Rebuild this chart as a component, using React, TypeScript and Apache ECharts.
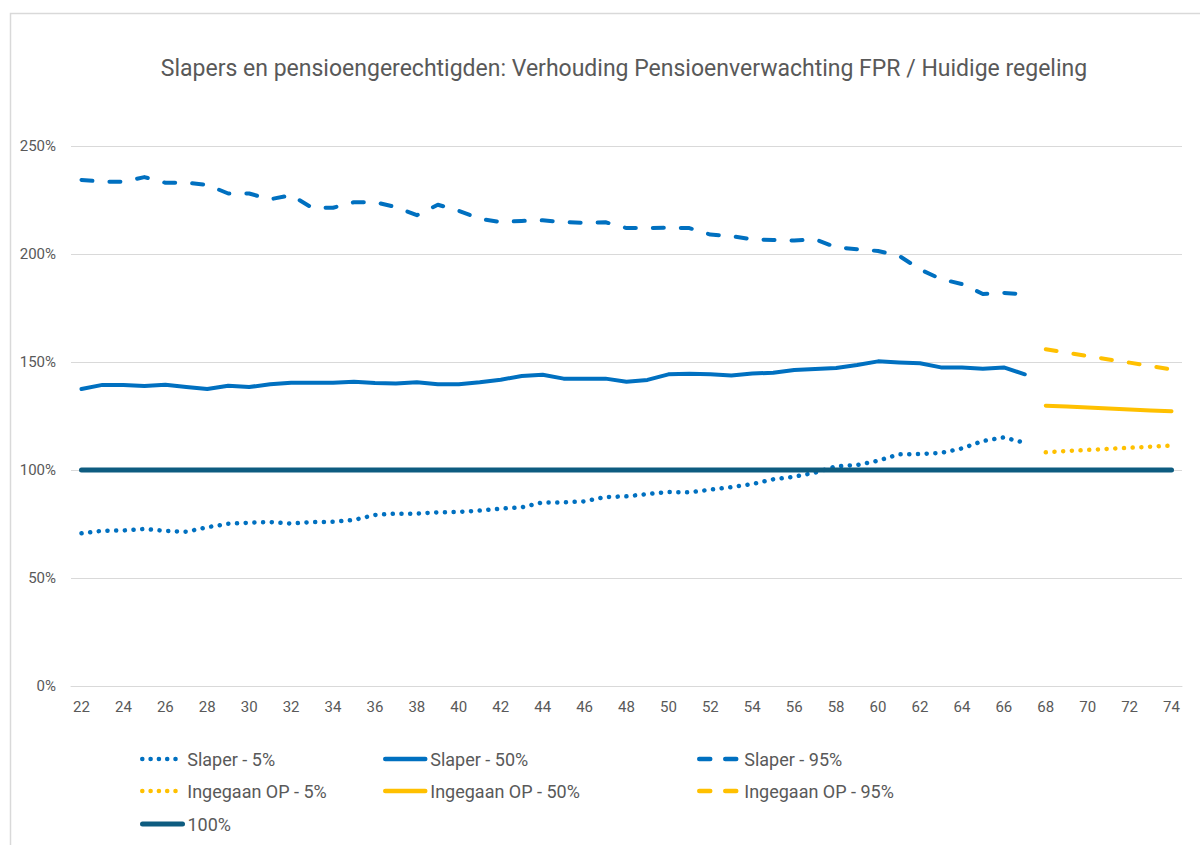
import React, { useEffect, useRef } from "react";
import * as echarts from "echarts";

const ages = [
  "22", "23", "24", "25", "26", "27", "28", "29", "30", "31", "32", "33", "34", "35", "36", "37", "38",
  "39", "40", "41", "42", "43", "44", "45", "46", "47", "48", "49", "50", "51", "52", "53", "54", "55",
  "56", "57", "58", "59", "60", "61", "62", "63", "64", "65", "66", "67", "68", "69", "70", "71", "72",
  "73", "74",
];

// Slapers: ages 22..67
const slaper5 = [
  70.7, 71.9, 72.0, 72.7, 71.8, 71.4, 73.5, 75.1, 75.6, 75.9, 75.2, 75.9, 76.0, 76.9, 79.2, 79.8, 79.8,
  80.4, 80.6, 81.2, 82.1, 82.7, 85.0, 85.0, 85.5, 87.5, 87.8, 88.9, 89.8, 89.7, 90.9, 92.1, 93.5, 95.7,
  96.9, 98.8, 101.7, 102.3, 104.3, 107.3, 107.4, 107.9, 110.0, 113.4, 115.1, 112.6,
];
const slaper50 = [
  137.5, 139.4, 139.4, 138.9, 139.5, 138.4, 137.5, 139.0, 138.4, 139.7, 140.4, 140.4, 140.4, 140.9, 140.3,
  140.1, 140.6, 139.7, 139.7, 140.6, 141.8, 143.5, 144.1, 142.3, 142.3, 142.3, 140.9, 141.7, 144.3, 144.6,
  144.3, 143.8, 144.7, 145.0, 146.3, 146.8, 147.2, 148.6, 150.3, 149.8, 149.4, 147.5, 147.5, 146.9, 147.5,
  144.3,
];
const slaper95 = [
  234.3, 233.5, 233.5, 235.6, 233.0, 233.0, 232.0, 228.0, 228.0, 225.3, 227.3, 221.4, 221.4, 224.0, 224.0,
  221.7, 218.0, 222.8, 220.0, 216.3, 214.8, 215.3, 215.6, 214.8, 214.4, 214.7, 212.0, 212.0, 212.2, 212.0,
  209.0, 208.3, 206.8, 206.5, 206.2, 206.8, 203.1, 202.2, 201.4, 199.2, 192.9, 188.4, 186.1, 181.5, 182.0,
  181.3,
];
// Ingegaan OP: ages 68..74
const ingegaan5 = [108.2, 108.8, 109.3, 109.8, 110.3, 110.8, 111.3];
const ingegaan50 = [129.8, 129.4, 128.9, 128.5, 128.0, 127.6, 127.2];
const ingegaan95 = [155.9, 154.3, 152.8, 151.2, 149.7, 148.1, 146.6];
const reference100 = [
  100, 100, 100, 100, 100, 100, 100, 100, 100, 100, 100, 100, 100, 100, 100, 100, 100, 100, 100, 100, 100,
  100, 100, 100, 100, 100, 100, 100, 100, 100, 100, 100, 100, 100, 100, 100, 100, 100, 100, 100, 100, 100,
  100, 100, 100, 100, 100, 100, 100, 100, 100, 100, 100,
];
const yTicks = ["0%", "50%", "100%", "150%", "200%", "250%"];

const BLUE = "#0070C0";
const YELLOW = "#FFC000";
const TEAL = "#0E5C80";
const TEXT = "#595959";
const FONT = "Roboto, 'Noto Sans', sans-serif";

const padSlaper = (arr: number[]) => [...arr, ...new Array(ages.length - arr.length).fill(null)];
const padIngegaan = (arr: number[]) => [...new Array(ages.length - arr.length).fill(null), ...arr];

const DOT: number[] = [0.1, 8.6];
const DASH: number[] = [11, 17];
const LEG_DOT: number[] = [0.1, 8.2];
const LEG_DASH: number[] = [11, 15];

export default function App() {
  const ref = useRef<HTMLDivElement>(null);
  useEffect(() => {
    document.body.style.margin = "0";
    if (!ref.current) return;
    const chart = echarts.init(ref.current, undefined, { renderer: "svg" });
    const mk = (name: string, data: (number | null)[], color: string, dash: any, width: number) => ({
      name,
      type: "line",
      data,
      symbol: "none",
      connectNulls: false,
      lineStyle: { color, width, type: dash, cap: "round", join: "round" },
      itemStyle: { color },
    });
    const legendPos: [string, number, number, string, any, number][] = [
      ["Slaper - 5%", 140, 760, BLUE, LEG_DOT, 4.5],
      ["Slaper - 50%", 383, 760, BLUE, "solid", 4.5],
      ["Slaper - 95%", 697, 760, BLUE, LEG_DASH, 4.5],
      ["Ingegaan OP - 5%", 140, 792, YELLOW, LEG_DOT, 4.5],
      ["Ingegaan OP - 50%", 383, 792, YELLOW, "solid", 4.5],
      ["Ingegaan OP - 95%", 697, 792, YELLOW, LEG_DASH, 4.5],
      ["100%", 140, 825, TEAL, "solid", 5],
    ];
    chart.setOption({
      animation: false,
      backgroundColor: "#ffffff",
      title: {
        text: "Slapers en pensioengerechtigden: Verhouding Pensioenverwachting FPR / Huidige regeling",
        left: 619,
        textAlign: "center",
        top: 52,
        textStyle: { color: TEXT, fontSize: 23, fontWeight: "normal", fontFamily: FONT },
      },
      graphic: [
        {
          type: "rect",
          shape: { x: 10.5, y: 13.5, width: 1400, height: 1000 },
          style: { fill: "none", stroke: "#d9d9d9", lineWidth: 1.5 },
          silent: true,
        },
      ],
      legend: legendPos.map(([name, left, cy, color, type, width]) => ({
        data: [name],
        left,
        top: cy - 10,
        itemWidth: 40,
        itemHeight: 20,
        padding: 0,
        selectedMode: false,
        itemStyle: { opacity: 0 },
        lineStyle: { color, type, width, cap: "round" },
        textStyle: { color: TEXT, fontSize: 18, fontFamily: FONT },
      })),
      grid: { left: 71, right: 18, top: 146, bottom: 159, containLabel: false },
      xAxis: {
        type: "category",
        data: ages,
        boundaryGap: true,
        axisLine: { show: true, lineStyle: { color: "#d9d9d9", width: 1 } },
        axisTick: { show: false },
        axisLabel: {
          interval: 1,
          color: TEXT,
          fontSize: 15,
          fontFamily: FONT,
          margin: 13,
        },
        splitLine: { show: false },
      },
      yAxis: {
        type: "value",
        min: 0,
        max: 250,
        interval: 50,
        axisLine: { show: false },
        axisTick: { show: false },
        axisLabel: {
          color: TEXT,
          fontSize: 15,
          fontFamily: FONT,
          margin: 15,
          formatter: (v: number) => yTicks[Math.round(v / 50)],
        },
        splitLine: { lineStyle: { color: "#d9d9d9", width: 1 } },
      },
      series: [
        mk("Slaper - 5%", padSlaper(slaper5), BLUE, DOT, 4.5),
        mk("Slaper - 50%", padSlaper(slaper50), BLUE, "solid", 4),
        mk("Slaper - 95%", padSlaper(slaper95), BLUE, DASH, 4),
        mk("Ingegaan OP - 5%", padIngegaan(ingegaan5), YELLOW, DOT, 4.5),
        mk("Ingegaan OP - 50%", padIngegaan(ingegaan50), YELLOW, "solid", 4),
        mk("Ingegaan OP - 95%", padIngegaan(ingegaan95), YELLOW, DASH, 4),
        mk("100%", reference100, TEAL, "solid", 5),
      ],
    });
    return () => chart.dispose();
  }, []);
  return <div ref={ref} style={{ width: 1200, height: 845 }} />;
}
